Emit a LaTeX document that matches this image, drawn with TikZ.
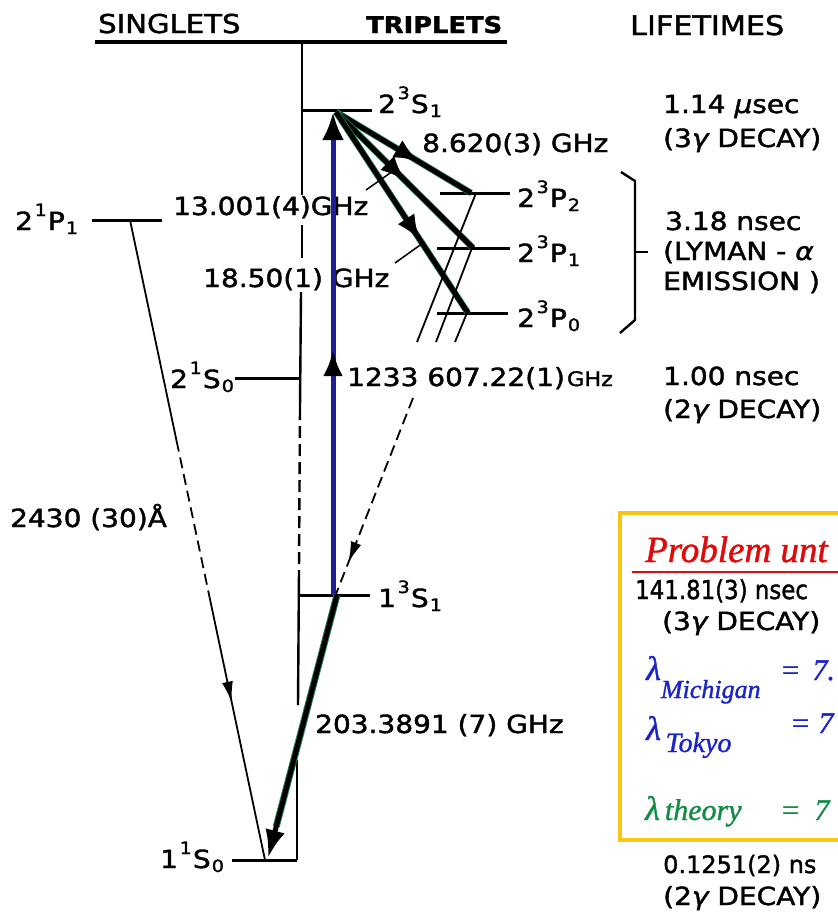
\documentclass[tikz,border=0pt]{standalone}
\usepackage{fontspec}
\usepackage{graphicx}
\newfontfamily\lett[FakeBold=1.5]{DejaVu Sans}
\newfontfamily\handfont[FakeBold=1.2]{Liberation Serif}
\usetikzlibrary{arrows.meta,decorations.markings,calc}
\definecolor{arrowblue}{RGB}{30,30,150}
\definecolor{inkblue}{RGB}{25,35,200}
\definecolor{inkgreen}{RGB}{20,140,70}
\definecolor{inkred}{RGB}{225,10,10}
\definecolor{boxyellow}{RGB}{247,198,20}
\definecolor{edgegreen}{RGB}{40,130,90}
\newcommand\fs[1]{\fontsize{#1}{#1}\selectfont}
\newcommand\sx[1]{\scalebox{1.12}[1]{#1}}
\newcommand\lv[4]{\sx{#1\kern1.5pt\raisebox{14pt}{\fs{17}#2}\kern1pt#3\kern1pt\raisebox{-4pt}{\fs{17}#4}}}
\tikzset{
  lab/.style={inner sep=0pt, anchor=base west, font=\lett\fs{25}},
  hdr/.style={inner sep=0pt, anchor=base west, font=\lett\fs{26}},
  hand/.style={inner sep=0pt, anchor=base west, font=\handfont\itshape\fs{30}},
  lvl/.style={line width=3pt},
  ladder/.style={line width=2.4pt},
  thinline/.style={line width=1.8pt},
  dashline/.style={line width=1.8pt, dash pattern=on 11pt off 6pt},
  thick arrow/.style={line width=5pt, preaction={draw=edgegreen, line width=6.5pt}},
  bighead/.style={postaction={decorate,decoration={markings,
      mark=at position #1 with {\arrow{Latex[length=26pt,width=20pt,color=black]}}}}},
  smallhead/.style={postaction={decorate,decoration={markings,
      mark=at position #1 with {\arrow{Latex[length=21pt,width=11pt,color=black]}}}}}
}
\begin{document}
\begin{tikzpicture}[x=1pt,y=-1pt]
\useasboundingbox (0,0) rectangle (838,914);
\fill[white] (0,0) rectangle (838,914);
\clip (0,0) rectangle (838,914);

% headers
\node[hdr] (sing) at (98,33) {\sx{SINGLETS}};
\node[hdr, font=\lett\bfseries\fs{23}] (trip) at (366,33) {\sx{TRIPLETS}};
\node[hdr, font=\lett\fs{27}] (life) at (630,35) {\sx{LIFETIMES}};
\draw[line width=3.5pt] (95,42) -- (507,42);

% ladder line
\draw[ladder] (302,42) -- (302,195);
\draw[ladder] (302,225) -- (302,258);
\draw[ladder] (301,292) -- (300,408);
\draw[ladder, dash pattern=on 12pt off 6pt] (300,408) -- (299,570);
\draw[ladder] (299,570) -- (298,705);
\draw[ladder] (297,760) -- (297,860);

% levels
\draw[lvl] (302,110) -- (372,110);
\draw[lvl] (440,193) -- (510,193);
\draw[lvl] (437,248) -- (510,248);
\draw[lvl] (437,313) -- (508,313);
\draw[lvl] (92,220) -- (162,220);
\draw[lvl] (235,378) -- (300,378);
\draw[lvl] (299,595) -- (370,595);
\draw[lvl] (232,860) -- (297,860);

% coordinates
\coordinate (a23S) at (336,112);
\coordinate (aP2) at (471,193);
\coordinate (aP1) at (473,248);
\coordinate (aP0) at (468,313);
\coordinate (b23S) at (333,112);
\coordinate (b13S) at (333,595);
\coordinate (a13S) at (337,595);
\coordinate (a11S) at (268,858);
\coordinate (a21P) at (130,220);
\coordinate (c11S) at (265,860);
\coordinate (dtop) at (413,398);
\coordinate (d13S) at (336,594);

% level labels
\node[lab] (tS1) at (378,113) {\lv{2}{3}{S}{1}};
\node[lab] (tP2) at (517,207) {\lv{2}{3}{P}{2}};
\node[lab] (tP1) at (517,262) {\lv{2}{3}{P}{1}};
\node[lab] (tP0) at (517,327) {\lv{2}{3}{P}{0}};
\node[lab] (sP1) at (15,230) {\lv{2}{1}{P}{1}};
\node[lab] (sS0) at (170,388) {\lv{2}{1}{S}{0}};
\node[lab] (tS13) at (378,607) {\lv{1}{3}{S}{1}};
\node[lab] (sS11) at (160,868) {\lv{1}{1}{S}{0}};

% frequency labels
\node[lab] (f862) at (422,152) {\sx{8.620(3) GHz}};
\node[lab] (f1300) at (173,215) {\sx{13.001(4)GHz}};
\node[lab] (f1850) at (203,287) {\sx{18.50(1) GHz}};
\node[lab] (f1233) at (347,386) {\sx{1233 607.22(1)}\kern2pt{\fs{20}\sx{GHz}}};
\node[lab] (f203) at (315,733) {\sx{203.3891 (7) GHz}};
\node[lab] (w2430) at (10,527) {\sx{2430 (30)Å}};

% lifetimes
\node[lab] (l1) at (663,113) {\sx{1.14 {\itshape μ}sec}};
\node[lab] (l1b) at (663,147) {\sx{(3{\itshape γ} DECAY)}};
\node[lab] (l2) at (665,230) {\sx{3.18 nsec}};
\node[lab] (l2b) at (663,260) {\sx{(LYMAN - {\itshape α}}};
\node[lab] (l2c) at (663,290) {\sx{EMISSION )}};
\node[lab] (l3) at (663,385) {\sx{1.00 nsec}};
\node[lab] (l3b) at (663,418) {\sx{(2{\itshape γ} DECAY)}};
\node[lab] (l4) at (635,599) {\fs{26}\scalebox{0.88}[1]{141.81(3) nsec}};
\node[lab] (l4b) at (662,630) {\sx{(3{\itshape γ} DECAY)}};
\node[lab] (l5) at (663,873) {\fs{24}0.1251(2) ns};
\node[lab] (l5b) at (663,905) {\sx{(2{\itshape γ} DECAY)}};

% brace
\draw[line width=2.4pt, line join=round] (621,172) -- (635,181) -- (635,320) -- (620,333);
\draw[line width=2.4pt] (635,252) -- (648,252);

% S -> P thick arrows
\draw[thick arrow, bighead=0.62] (a23S) -- (aP2);
\draw[thick arrow, bighead=0.51] (a23S) -- (aP1);
\draw[thick arrow, bighead=0.64] (a23S) -- (aP0);

% leaders
\draw[line width=1.5pt] (366,190) -- (393,171);
\draw[line width=1.5pt] (395,263) -- (423,243);

% P -> 1S slanted lines
\draw[thinline] (476,193) -- (417,342);
\draw[thinline] (472,248) -- (436,342);
\draw[thinline] (467,313) -- (455,342);

% dashed decay to 1^3S_1
\draw[dashline, smallhead=0.84] (dtop) -- (d13S);

% 2^1P_1 -> 1^1S_0
\coordinate (q1) at ($(a21P)!0.345!(c11S)$);
\coordinate (q2) at ($(a21P)!0.59!(c11S)$);
\draw[thinline] (a21P) -- (q1);
\draw[dashline] (q1) -- (q2);
\draw[thinline, smallhead=0.40] (q2) -- (c11S);

% blue 1S-2S arrow
\draw[line width=5pt, draw=arrowblue, -{Latex[length=28pt,width=22pt,color=black]}, bighead=0.507] (b13S) -- (b23S);

% hyperfine 1^3S_1 -> 1^1S_0
\draw[edgegreen, line width=7pt] (a13S) -- ($(a13S)!0.88!(a11S)$);
\draw[line width=5pt, -{Latex[length=28pt,width=20pt]}] (a13S) -- (a11S);

% box
\draw[boxyellow, line width=4pt] (620,513) rectangle (870,840);
\node[hand, text=inkred, font=\handfont\itshape\fs{37}] (prob) at (645,562) {Problem unt};
\draw[inkred, line width=2.5pt] (632,572) -- (845,572);
\node[hand, text=inkblue] (lm) at (646,680) {{\fs{34}λ}\raisebox{-18pt}{\fs{26}Michigan}};
\node[hand, text=inkblue] (lme) at (780,680) {=\hspace{12pt}7.};
\node[hand, text=inkblue] (lt) at (646,740) {{\fs{34}λ}\raisebox{-12pt}{\fs{28}\,Tokyo}};
\node[hand, text=inkblue] (lte) at (790,733) {=\hspace{8pt}7};
\node[hand, text=inkgreen] (lth) at (645,820) {{\fs{34}λ}{\fs{30}\,theory}};
\node[hand, text=inkgreen] (lthe) at (780,820) {=\hspace{14pt}7};
\end{tikzpicture}
\end{document}
